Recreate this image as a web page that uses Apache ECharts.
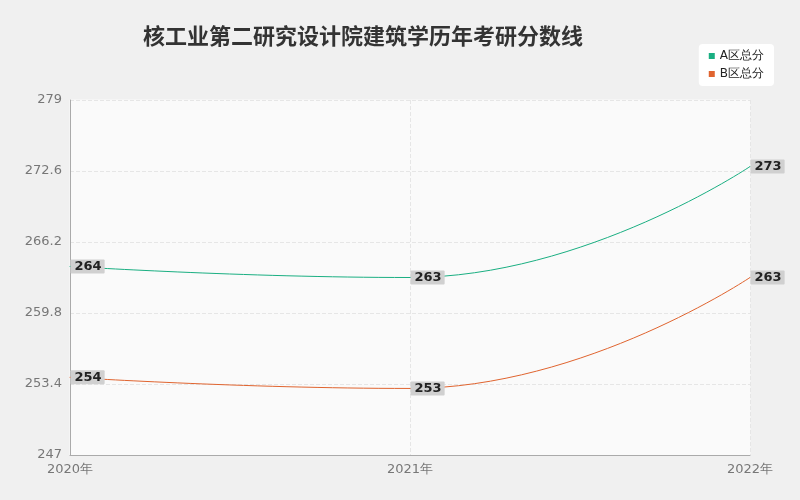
<!DOCTYPE html>
<html><head><meta charset="utf-8">
<script src="https://cdn.jsdelivr.net/npm/echarts@6/dist/echarts.min.js"></script>
<style>html,body{margin:0;padding:0;background:#fff}#c{width:800px;height:500px}</style>
</head><body><div id="c"></div>
<script>
const categories = ['2020年','2021年','2022年'];
const seriesA = [264, 263, 273];
const seriesB = [254, 253, 263];
const names = ['A区总分','B区总分'];
const chart = echarts.init(document.getElementById('c'));
const lbl = {show:true, position:'right', distance:0, color:'#222', fontWeight:'bold', fontSize:13,
  fontFamily:'DejaVu Sans', backgroundColor:'#d0d0d0', padding:[1,3,0,4], borderRadius:1};
chart.setOption({
  backgroundColor:'#f0f0f0',
  textStyle:{fontFamily:'DejaVu Sans'},
  title:{text:'核工业第二研究设计院建筑学历年考研分数线', left:138, top:20,
    textStyle:{fontSize:22, fontWeight:'bold', color:'#333', fontFamily:'Noto Sans CJK SC'}},
  legend:{orient:'vertical', right:26, top:44, backgroundColor:'#fff', borderRadius:4, padding:[6,10],
    itemWidth:6, itemHeight:6, itemGap:6, icon:'rect', textStyle:{fontSize:12, color:'#222'}},
  grid:{left:70, right:50, top:100, bottom:45, show:true, backgroundColor:'#fafafa', borderColor:'#fafafa'},
  xAxis:{type:'category', data:categories, boundaryGap:false,
    axisLine:{lineStyle:{color:'#aaa'}}, axisTick:{show:false},
    axisLabel:{color:'#777', fontSize:13},
    splitLine:{show:true, lineStyle:{type:'dashed', color:'#e6e6e6'}}},
  yAxis:{type:'value', min:247, max:279, interval:6.4,
    axisLine:{show:true, lineStyle:{color:'#aaa'}}, axisTick:{show:false},
    axisLabel:{color:'#777', fontSize:13, formatter:v=>+v.toFixed(1)},
    splitLine:{lineStyle:{type:'dashed', color:'#e6e6e6'}}},
  series:[
    {name:names[0], type:'line', smooth:0.5, data:seriesA, symbol:'circle', symbolSize:1, color:'#1aaf82',
     lineStyle:{width:1}, label:lbl},
    {name:names[1], type:'line', smooth:0.5, data:seriesB, symbol:'circle', symbolSize:1, color:'#e0642f',
     lineStyle:{width:1}, label:lbl}
  ]
});
</script></body></html>
